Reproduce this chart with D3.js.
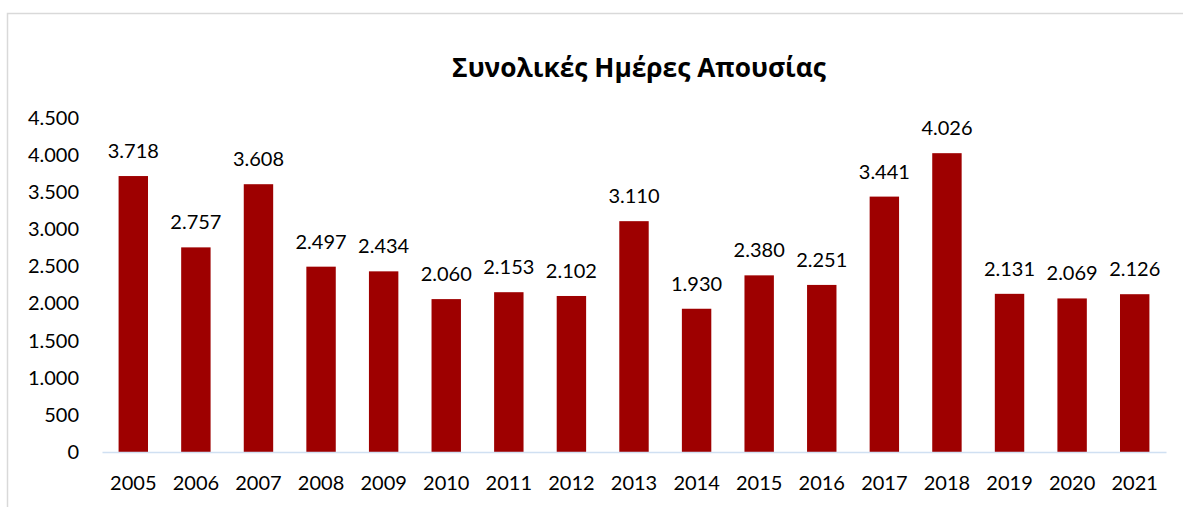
<!DOCTYPE html>
<html>
<head>
<meta charset="utf-8">
<script src="https://cdn.jsdelivr.net/npm/d3@7"></script>
<style>
  body { margin: 0; background: #fff; }
  svg text { font-family: Lato, "Open Sans", sans-serif; fill: #000; }
</style>
</head>
<body>
<div id="chart"></div>
<script>
var w = 1183;
var h = 507;

// data
var years = ["2005", "2006", "2007", "2008", "2009", "2010", "2011", "2012", "2013",
             "2014", "2015", "2016", "2017", "2018", "2019", "2020", "2021"];
var days = [3718, 2757, 3608, 2497, 2434, 2060, 2153, 2102, 3110,
            1930, 2380, 2251, 3441, 4026, 2131, 2069, 2126];
var yTicks = [0, 500, 1000, 1500, 2000, 2500, 3000, 3500, 4000, 4500];
var title = "Συνολικές Ημέρες Απουσίας";

var fmt = d3.formatLocale({decimal: ",", thousands: ".", grouping: [3], currency: ["", "€"]}).format(",d");

var chart = d3.select("#chart")
  .append("svg")
  .attr("width", w)
  .attr("height", h);

// chart frame
chart.append("rect")
  .attr("x", 7.5)
  .attr("y", 13.5)
  .attr("width", 1190)
  .attr("height", 520)
  .attr("fill", "none")
  .attr("stroke", "#d9d9d9")
  .attr("stroke-width", 1.5);

chart.append("text")
  .attr("x", 639)
  .attr("y", 77)
  .attr("text-anchor", "middle")
  .style("font-family", "'Open Sans', 'Noto Sans', sans-serif")
  .style("font-weight", "bold")
  .style("font-size", "26.3px")
  .text(title);

var xScale = d3.scaleBand()
  .domain(years)
  .range([102, 1166])
  .paddingInner(0.53)
  .paddingOuter(0.265);

var yScale = d3.scaleLinear()
  .domain([0, 4500])
  .range([452, 118]);

// y axis labels
var yAxis = d3.axisLeft(yScale)
  .tickValues(yTicks)
  .tickFormat(fmt)
  .tickSize(0)
  .tickPadding(0);

var yg = chart.append("g")
  .attr("transform", "translate(79,0)")
  .call(yAxis);
yg.select(".domain").remove();
yg.selectAll("text")
  .style("font-family", "Lato, sans-serif")
  .style("font-size", "20px");

// bars
chart.selectAll(".bar")
  .data(days)
  .enter()
  .append("rect")
  .attr("class", "bar")
  .attr("x", function(d, i) { return xScale(years[i]); })
  .attr("y", function(d) { return yScale(d); })
  .attr("width", xScale.bandwidth())
  .attr("height", function(d) { return yScale(0) - yScale(d); })
  .attr("fill", "#9e0000");

// x axis
var xAxis = d3.axisBottom(xScale)
  .tickSize(0)
  .tickPadding(24);

var xg = chart.append("g")
  .attr("transform", "translate(0,452)")
  .call(xAxis);
xg.select(".domain")
  .attr("stroke", "#d0e0f2")
  .attr("stroke-width", 1.5);
xg.selectAll("text")
  .style("font-family", "Lato, sans-serif")
  .style("font-size", "20px");

// value labels
chart.selectAll(".lbl")
  .data(days)
  .enter()
  .append("text")
  .attr("class", "lbl")
  .attr("x", function(d, i) { return xScale(years[i]) + xScale.bandwidth() / 2; })
  .attr("y", function(d) { return yScale(d) - 18; })
  .attr("text-anchor", "middle")
  .style("font-size", "20px")
  .text(function(d) { return fmt(d); });
</script>
</body>
</html>
